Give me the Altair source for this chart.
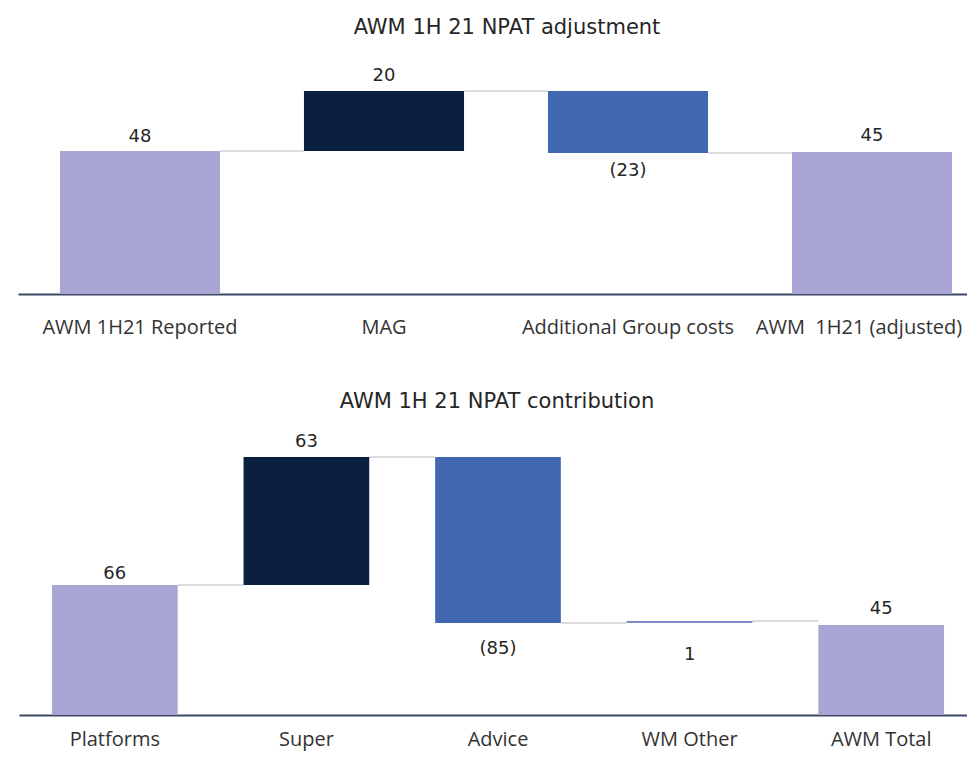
import altair as alt
import pandas as pd

# ---------------- data ----------------
top_title = "AWM 1H 21 NPAT adjustment"
top_categories = ["AWM 1H21 Reported", "MAG", "Additional Group costs", "AWM \u00a01H21 (adjusted)"]
top_values = [47.7, 20.0, -20.7, 47.3]
top_kinds = ["total", "increase", "decrease", "total"]
top_labels = ["48", "20", "(23)", "45"]

bottom_title = "AWM 1H 21 NPAT contribution"
bottom_categories = ["Platforms", "Super", "Advice", "WM Other", "AWM Total"]
bottom_values = [65.0, 64.0, -83.0, 1.0, 45.0]
bottom_kinds = ["total", "increase", "decrease", "other", "total"]
bottom_labels = ["66", "63", "(85)", "1", "45"]

kind_domain = ["total", "increase", "decrease", "other"]
kind_colors = ["#a8a4d4", "#0b1f3f", "#4168ae", "#7a8cc4"]

TEXT_FONT = "DejaVu Sans"
LABEL_FONT = "Open Sans"

PLOT_W = 949
PLOT_H = 707


def waterfall(cats, vals, kinds, labels):
    rows = []
    run = 0.0
    for i, (c, v, k, l) in enumerate(zip(cats, vals, kinds, labels)):
        if k == "total":
            s, e = 0.0, v
        else:
            s, e = run, run + v
        run = e
        rows.append(dict(idx=i, cat=c, start=s, end=e, kind=k, label=l,
                         lo=min(s, e), hi=max(s, e)))
    conn = [dict(cat=cats[i], nxt=cats[i + 1], level=rows[i]["end"])
            for i in range(len(cats) - 1)]
    return pd.DataFrame(rows), pd.DataFrame(conn)


def panel(cats, vals, kinds, labels, x_range, y_domain, y_range,
          axis_offset, label_pad, label_anchor, label_dy, last_label_shift):
    bars, conn = waterfall(cats, vals, kinds, labels)
    xscale = alt.Scale(domain=cats, range=x_range,
                       paddingInner=0.344, paddingOuter=0.172)
    yscale = alt.Scale(domain=y_domain, range=y_range, nice=False, zero=True)
    xaxis = alt.Axis(title=None, orient="bottom", offset=axis_offset,
                     labelAngle=0, ticks=False, grid=False,
                     domainColor="#3f4966", domainWidth=2,
                     labelFont=LABEL_FONT, labelFontSize=20,
                     labelColor="#333333", labelPadding=label_pad,
                     labelLimit=400, labelOverlap=False,
                     labelOffset={"condition": {"test": f"datum.value === '{cats[-1]}'",
                                                "value": last_label_shift},
                                  "value": 0})

    conn_layer = alt.Chart(conn).mark_rule(color="#dcdcdc", strokeWidth=2).encode(
        x=alt.X("cat:N", bandPosition=1, scale=xscale, sort=cats, axis=xaxis),
        x2=alt.X2("nxt:N", bandPosition=0),
        y=alt.Y("level:Q", scale=yscale, axis=None),
    )
    bar_layer = alt.Chart(bars).mark_bar().encode(
        x=alt.X("cat:N", scale=xscale, axis=xaxis, sort=cats),
        y=alt.Y("start:Q", scale=yscale, axis=None),
        y2="end:Q",
        color=alt.Color("kind:N", scale=alt.Scale(domain=kind_domain, range=kind_colors),
                        legend=None),
    )
    texts = []
    for i in range(len(cats)):
        texts.append(
            alt.Chart(bars).transform_filter(alt.datum.idx == i)
            .mark_text(font=TEXT_FONT, fontSize=18, color="#262626",
                       baseline="middle", dy=label_dy[i])
            .encode(
                x=alt.X("cat:N", scale=xscale, sort=cats, axis=xaxis),
                y=alt.Y(f"{label_anchor[i]}:Q", scale=yscale, axis=None),
                text="label:N",
            )
        )
    return alt.layer(conn_layer, bar_layer, *texts)


def title_mark(text, x, y):
    return alt.Chart(pd.DataFrame({"t": [text]})).mark_text(
        font=TEXT_FONT, fontSize=21, color="#262626", align="center", baseline="middle"
    ).encode(x=alt.value(x), y=alt.value(y), text="t:N")


top = panel(top_categories, top_values, top_kinds, top_labels,
            [0, 976], [0, 95], [286, 1], 286 - PLOT_H, 23,
            ["hi", "hi", "lo", "hi"], [-14, -15, 18, -16], -13)

bottom = panel(bottom_categories, bottom_values, bottom_kinds, bottom_labels,
               [1, 959], [0, 140], [707, 427], 707 - PLOT_H, 14,
               ["hi", "hi", "lo", "lo", "hi"], [-11, -15, 26, 32, -16], 0)

chart = alt.layer(
    top, bottom,
    title_mark(top_title, 489, 20),
    title_mark(bottom_title, 479, 394),
).resolve_scale(x="independent", y="independent").properties(
    width=PLOT_W, height=PLOT_H,
    autosize=alt.AutoSizeParams(type="none"),
    padding={"left": 10, "top": 0, "right": 0, "bottom": 37},
    background="white",
).configure_view(strokeWidth=0)

chart.save("out.html", embed_options={"renderer": "svg", "actions": False})
